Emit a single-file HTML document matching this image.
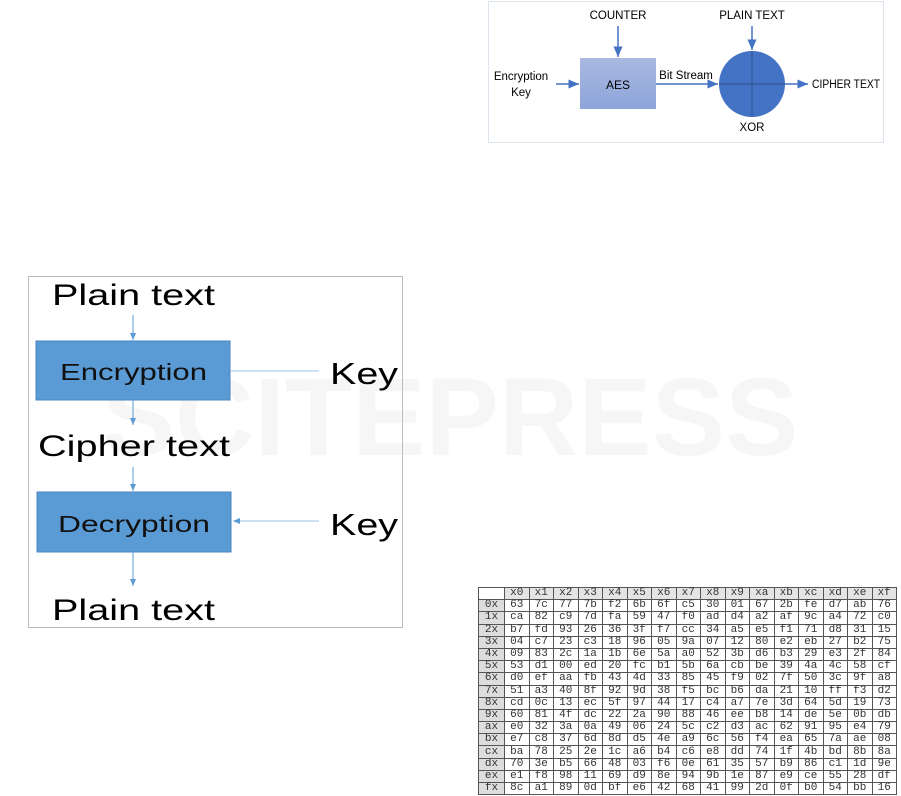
<!DOCTYPE html>
<html><head><meta charset="utf-8"><style>
body{margin:0;width:901px;height:796px;background:#fff;position:relative;overflow:hidden;font-family:"Liberation Sans",sans-serif}
svg{position:absolute;left:0;top:0}
table{position:absolute;left:478px;top:587px;border-collapse:collapse;font-family:"Liberation Mono",monospace;font-size:11px;color:#333}
td{border:1px solid #555;width:23.5px;height:11.2px;padding:0;text-align:center;line-height:11px}
td:first-child{width:25px;background:#ddd}
tr:first-child td{background:#e4e4e4}
tr:first-child td:first-child{background:#fff}
</style></head><body>
<svg width="901" height="796">
<defs><marker id="a" markerWidth="8" markerHeight="8" refX="7" refY="4" orient="auto"><path d="M0,1 L7,4 L0,7z" fill="#4472c4"/></marker>
<marker id="b" markerWidth="8" markerHeight="8" refX="7" refY="4" orient="auto"><path d="M0,1 L7,4 L0,7z" fill="#5b9bd5"/></marker>
<linearGradient id="g" x1="0" y1="0" x2="0" y2="1"><stop offset="0" stop-color="#a9b9e0"/><stop offset="1" stop-color="#8ea5da"/></linearGradient></defs>
<text x="450" y="455" font-size="110" font-weight="bold" fill="#000" fill-opacity="0.035" text-anchor="middle">SCITEPRESS</text>
<rect x="488.5" y="1.5" width="395" height="141" fill="none" stroke="#dde4ee"/>
<text x="618" y="19" font-size="11.5" text-anchor="middle">COUNTER</text>
<text x="752" y="19" font-size="11.5" text-anchor="middle">PLAIN TEXT</text>
<text x="521" y="80" font-size="11.5" text-anchor="middle">Encryption</text>
<text x="521" y="96" font-size="11.5" text-anchor="middle">Key</text>
<rect x="580" y="58" width="76" height="51" fill="url(#g)"/>
<text x="618" y="89" font-size="12" text-anchor="middle">AES</text>
<text x="686" y="79" font-size="11.5" text-anchor="middle">Bit Stream</text>
<line x1="618" y1="26" x2="618" y2="57" stroke="#4472c4" stroke-width="1.5" marker-end="url(#a)"/>
<line x1="556" y1="84" x2="579" y2="84" stroke="#4472c4" stroke-width="1.5" marker-end="url(#a)"/>
<line x1="656" y1="84" x2="718" y2="84" stroke="#4472c4" stroke-width="1.5" marker-end="url(#a)"/>
<line x1="752" y1="26" x2="752" y2="50" stroke="#4472c4" stroke-width="1.5" marker-end="url(#a)"/>
<circle cx="752" cy="84" r="33" fill="#4472c4"/>
<line x1="719" y1="84" x2="785" y2="84" stroke="#2f528f"/><line x1="752" y1="51" x2="752" y2="117" stroke="#2f528f"/>
<line x1="785" y1="84" x2="808" y2="84" stroke="#4472c4" stroke-width="1.5" marker-end="url(#a)"/>
<text x="812" y="88" font-size="11.5" textLength="68" lengthAdjust="spacingAndGlyphs">CIPHER TEXT</text>
<text x="752" y="131" font-size="11.5" text-anchor="middle">XOR</text>

<rect x="28.5" y="276.5" width="374" height="351" fill="none" stroke="#bbb"/>
<g lengthAdjust="spacingAndGlyphs">
<text x="52" y="305" font-size="30" textLength="163" lengthAdjust="spacingAndGlyphs">Plain text</text>
<text x="60" y="380" font-size="23" textLength="147" lengthAdjust="spacingAndGlyphs" fill="#111">Encryption</text>
<text x="330" y="384" font-size="31" textLength="68" lengthAdjust="spacingAndGlyphs">Key</text>
<text x="38" y="456" font-size="30" textLength="192" lengthAdjust="spacingAndGlyphs">Cipher text</text>
<text x="58" y="532" font-size="23" textLength="152" lengthAdjust="spacingAndGlyphs" fill="#111">Decryption</text>
<text x="330" y="535" font-size="31" textLength="68" lengthAdjust="spacingAndGlyphs">Key</text>
<text x="52" y="620" font-size="30" textLength="163" lengthAdjust="spacingAndGlyphs">Plain text</text>
</g>
<line x1="133" y1="315" x2="133" y2="340" stroke="#5b9bd5" marker-end="url(#b)"/>
<rect x="36" y="341" width="194" height="59" fill="#5b9bd5" stroke="#4a86c0"/>
<text x="60" y="380" font-size="23" textLength="147" lengthAdjust="spacingAndGlyphs" fill="#111">Encryption</text>
<line x1="230" y1="371" x2="319" y2="371" stroke="#9cc3e5"/>
<line x1="133" y1="400" x2="133" y2="425" stroke="#5b9bd5" marker-end="url(#b)"/>
<line x1="133" y1="467" x2="133" y2="491" stroke="#5b9bd5" marker-end="url(#b)"/>
<rect x="37" y="492" width="194" height="60" fill="#5b9bd5" stroke="#4a86c0"/>
<text x="58" y="532" font-size="23" textLength="152" lengthAdjust="spacingAndGlyphs" fill="#111">Decryption</text>
<line x1="319" y1="521" x2="233" y2="521" stroke="#9cc3e5" marker-end="url(#b)"/>
<line x1="133" y1="552" x2="133" y2="586" stroke="#5b9bd5" marker-end="url(#b)"/>
</svg>
<table>
<tr><td></td><td>x0</td><td>x1</td><td>x2</td><td>x3</td><td>x4</td><td>x5</td><td>x6</td><td>x7</td><td>x8</td><td>x9</td><td>xa</td><td>xb</td><td>xc</td><td>xd</td><td>xe</td><td>xf</td></tr>
<tr><td>0x</td><td>63</td><td>7c</td><td>77</td><td>7b</td><td>f2</td><td>6b</td><td>6f</td><td>c5</td><td>30</td><td>01</td><td>67</td><td>2b</td><td>fe</td><td>d7</td><td>ab</td><td>76</td></tr>
<tr><td>1x</td><td>ca</td><td>82</td><td>c9</td><td>7d</td><td>fa</td><td>59</td><td>47</td><td>f0</td><td>ad</td><td>d4</td><td>a2</td><td>af</td><td>9c</td><td>a4</td><td>72</td><td>c0</td></tr>
<tr><td>2x</td><td>b7</td><td>fd</td><td>93</td><td>26</td><td>36</td><td>3f</td><td>f7</td><td>cc</td><td>34</td><td>a5</td><td>e5</td><td>f1</td><td>71</td><td>d8</td><td>31</td><td>15</td></tr>
<tr><td>3x</td><td>04</td><td>c7</td><td>23</td><td>c3</td><td>18</td><td>96</td><td>05</td><td>9a</td><td>07</td><td>12</td><td>80</td><td>e2</td><td>eb</td><td>27</td><td>b2</td><td>75</td></tr>
<tr><td>4x</td><td>09</td><td>83</td><td>2c</td><td>1a</td><td>1b</td><td>6e</td><td>5a</td><td>a0</td><td>52</td><td>3b</td><td>d6</td><td>b3</td><td>29</td><td>e3</td><td>2f</td><td>84</td></tr>
<tr><td>5x</td><td>53</td><td>d1</td><td>00</td><td>ed</td><td>20</td><td>fc</td><td>b1</td><td>5b</td><td>6a</td><td>cb</td><td>be</td><td>39</td><td>4a</td><td>4c</td><td>58</td><td>cf</td></tr>
<tr><td>6x</td><td>d0</td><td>ef</td><td>aa</td><td>fb</td><td>43</td><td>4d</td><td>33</td><td>85</td><td>45</td><td>f9</td><td>02</td><td>7f</td><td>50</td><td>3c</td><td>9f</td><td>a8</td></tr>
<tr><td>7x</td><td>51</td><td>a3</td><td>40</td><td>8f</td><td>92</td><td>9d</td><td>38</td><td>f5</td><td>bc</td><td>b6</td><td>da</td><td>21</td><td>10</td><td>ff</td><td>f3</td><td>d2</td></tr>
<tr><td>8x</td><td>cd</td><td>0c</td><td>13</td><td>ec</td><td>5f</td><td>97</td><td>44</td><td>17</td><td>c4</td><td>a7</td><td>7e</td><td>3d</td><td>64</td><td>5d</td><td>19</td><td>73</td></tr>
<tr><td>9x</td><td>60</td><td>81</td><td>4f</td><td>dc</td><td>22</td><td>2a</td><td>90</td><td>88</td><td>46</td><td>ee</td><td>b8</td><td>14</td><td>de</td><td>5e</td><td>0b</td><td>db</td></tr>
<tr><td>ax</td><td>e0</td><td>32</td><td>3a</td><td>0a</td><td>49</td><td>06</td><td>24</td><td>5c</td><td>c2</td><td>d3</td><td>ac</td><td>62</td><td>91</td><td>95</td><td>e4</td><td>79</td></tr>
<tr><td>bx</td><td>e7</td><td>c8</td><td>37</td><td>6d</td><td>8d</td><td>d5</td><td>4e</td><td>a9</td><td>6c</td><td>56</td><td>f4</td><td>ea</td><td>65</td><td>7a</td><td>ae</td><td>08</td></tr>
<tr><td>cx</td><td>ba</td><td>78</td><td>25</td><td>2e</td><td>1c</td><td>a6</td><td>b4</td><td>c6</td><td>e8</td><td>dd</td><td>74</td><td>1f</td><td>4b</td><td>bd</td><td>8b</td><td>8a</td></tr>
<tr><td>dx</td><td>70</td><td>3e</td><td>b5</td><td>66</td><td>48</td><td>03</td><td>f6</td><td>0e</td><td>61</td><td>35</td><td>57</td><td>b9</td><td>86</td><td>c1</td><td>1d</td><td>9e</td></tr>
<tr><td>ex</td><td>e1</td><td>f8</td><td>98</td><td>11</td><td>69</td><td>d9</td><td>8e</td><td>94</td><td>9b</td><td>1e</td><td>87</td><td>e9</td><td>ce</td><td>55</td><td>28</td><td>df</td></tr>
<tr><td>fx</td><td>8c</td><td>a1</td><td>89</td><td>0d</td><td>bf</td><td>e6</td><td>42</td><td>68</td><td>41</td><td>99</td><td>2d</td><td>0f</td><td>b0</td><td>54</td><td>bb</td><td>16</td></tr>
</table>
</body></html>
